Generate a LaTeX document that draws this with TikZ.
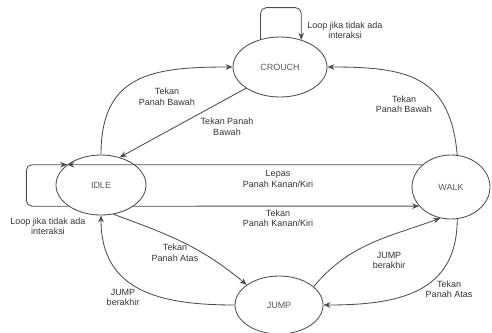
\documentclass[tikz,border=0pt]{standalone}
\usepackage{fontspec}
\setmainfont{Liberation Sans}
\usepackage{xcolor}
\definecolor{ink}{HTML}{4D4D4D}
\definecolor{tagink}{HTML}{333333}
\definecolor{statetext}{HTML}{595959}
\usetikzlibrary{arrows.meta,shapes.geometric}

\begin{document}
\begin{tikzpicture}[
      >={Stealth[length=5pt,width=4pt]},
      every node/.style={font=\fontsize{6.4}{7.5}\selectfont},
      state/.style={
        draw=ink, ellipse, line width=0.6pt, inner sep=0pt, text=statetext
      },
      arr/.style={->, line width=0.6pt, color=ink},
      selfarr/.style={->, line width=0.6pt, color=ink, rounded corners=4pt},
      tag/.style={align=center, text=tagink, inner sep=1pt},
    ]
      \useasboundingbox (0,0) rectangle (12.3,8.3);
      % states
      \node[state, minimum width=2.35cm, minimum height=1.5cm] (crouch) at (7.0,6.625) {CROUCH};
      \node[state, minimum width=2.25cm, minimum height=1.5cm] (idle) at (2.525,3.675) {IDLE};
      \node[state, minimum width=1.95cm, minimum height=1.6cm] (walk) at (11.275,3.625) {WALK};
      \node[state, minimum width=2.2cm, minimum height=1.45cm] (jump) at (6.975,0.675) {JUMP};
      % transitions
      \draw[selfarr] (crouch.125) -- ++(0,0.79) -| (crouch.52);
      \draw[selfarr] (idle.213) -- ++(-1.05,0) |- (idle.149);
      \draw[arr] (idle.north) to[out=90, in=180, looseness=1.3] (crouch.west);
      \draw[arr] (crouch.212) -- (idle.56);
      \draw[arr] (walk.79) to[out=95, in=0, looseness=1.3] (crouch.east);
      \draw[arr] (walk.142) -- (idle.149);
      \draw[arr] (idle.327) -- (walk.211);
      \draw[arr] (idle.293) to[out=-20, in=140] (jump.148);
      \draw[arr] (jump.west) to[out=180, in=-90, looseness=1.2] (idle.south);
      \draw[arr] (jump.28) to[out=50, in=200] (walk.251);
      \draw[arr] (walk.281) to[out=-90, in=0, looseness=1.2] (jump.east);
      % labels
      \node[tag] (tcrouchloop) at (8.625,7.5375) {Loop jika tidak ada\\interaksi};
      \node[tag] (tidleloop) at (1.2,2.6375) {Loop jika tidak ada\\interaksi};
      \node[tag] (tidlecrouch) at (4.175,5.875) {Tekan\\Panah Bawah};
      \node[tag] (tcrouchidle) at (5.675,5.125) {Tekan Panah\\Bawah};
      \node[tag] (twalkcrouch) at (10.1,5.6875) {Tekan\\Panah Bawah};
      \node[tag] (twalkidle) at (6.95,3.825) {Lepas\\Panah Kanan/Kiri};
      \node[tag] (tidlewalk) at (6.95,2.8375) {Tekan\\Panah Kanan/Kiri};
      \node[tag] (tidlejump) at (4.375,1.975) {Tekan\\Panah Atas};
      \node[tag] (tjumpidle) at (3.075,0.8625) {JUMP\\berakhir};
      \node[tag] (tjumpwalk) at (9.725,1.7875) {JUMP\\berakhir};
      \node[tag] (twalkjump) at (11.225,1.0625) {Tekan\\Panah Atas};
    \end{tikzpicture}
\end{document}
